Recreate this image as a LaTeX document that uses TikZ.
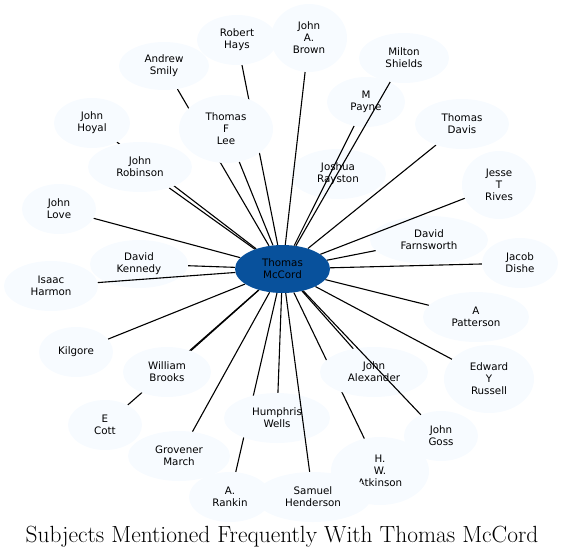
\documentclass[tikz,border=0pt]{standalone}
\usepackage{fontspec}
\newfontfamily\nodefont{DejaVu Sans}
\usetikzlibrary{shapes.geometric}
\pgfdeclarelayer{bg}
\pgfdeclarelayer{fg}
\pgfsetlayers{bg,main,fg}
\definecolor{lightnode}{HTML}{F7FBFF}
\definecolor{hubblue}{HTML}{08519C}
\begin{document}
\begin{tikzpicture}[x=1pt,y=-1pt,
  subj/.style={ellipse, fill=lightnode, inner sep=0pt, align=center,
    font=\nodefont\fontsize{10.3}{12}\selectfont, text=black},
  hub/.style={ellipse, fill=hubblue, inner sep=0pt, align=center,
    font=\nodefont\fontsize{10.3}{12}\selectfont, text=black},
  link/.style={draw=black, line width=1.1pt}]
\useasboundingbox (0,0) rectangle (564,558);

% nodes
\node[hub, minimum width=95pt, minimum height=48pt] (c) at (282.5,269) {Thomas\\McCord};
\node[subj, minimum width=80pt, minimum height=50pt] (hays) at (237,40) {Robert\\Hays};
\node[subj, minimum width=76pt, minimum height=68pt] (brown) at (309,38) {John\\A.\\Brown};
\node[subj, minimum width=90pt, minimum height=50pt] (shields) at (404,58) {Milton\\Shields};
\node[subj, minimum width=90pt, minimum height=48pt] (smily) at (164,66) {Andrew\\Smily};
\node[subj, minimum width=78pt, minimum height=50pt] (payne) at (366,102) {M\\Payne};
\node[subj, minimum width=94pt, minimum height=50pt] (davis) at (462,124) {Thomas\\Davis};
\node[subj, minimum width=76pt, minimum height=50pt] (hoyal) at (92,123) {John\\Hoyal};
\node[subj, minimum width=94pt, minimum height=68pt] (lee) at (226,129) {Thomas\\F\\Lee};
\node[subj, minimum width=104pt, minimum height=50pt] (robinson) at (140,167) {John\\Robinson};
\node[subj, minimum width=96pt, minimum height=50pt] (rayston) at (338,174) {Joshua\\Rayston};
\node[subj, minimum width=74pt, minimum height=68pt] (rives) at (499,185) {Jesse\\T\\Rives};
\node[subj, minimum width=74pt, minimum height=50pt] (love) at (59,209) {John\\Love};
\node[subj, minimum width=118pt, minimum height=48pt] (farnsworth) at (429,240) {David\\Farnsworth};
\node[subj, minimum width=76pt, minimum height=50pt] (dishe) at (520,263) {Jacob\\Dishe};
\node[subj, minimum width=98pt, minimum height=48pt] (kennedy) at (139,264) {David\\Kennedy};
\node[subj, minimum width=94pt, minimum height=50pt] (harmon) at (51,286) {Isaac\\Harmon};
\node[subj, minimum width=74pt, minimum height=50pt] (kilgore) at (76,352) {Kilgore};
\node[subj, minimum width=88pt, minimum height=50pt] (brooks) at (167,372) {William\\Brooks};
\node[subj, minimum width=74pt, minimum height=50pt] (cott) at (105,425) {E\\Cott};
\node[subj, minimum width=102pt, minimum height=50pt] (march) at (179,456) {Grovener\\March};
\node[subj, minimum width=82pt, minimum height=50pt] (rankin) at (230,497) {A.\\Rankin};
\node[subj, minimum width=106pt, minimum height=50pt] (wells) at (277,418) {Humphris\\Wells};
\node[subj, minimum width=98pt, minimum height=68pt] (atkinson) at (380,471) {H.\\W.\\Atkinson};
\node[subj, minimum width=116pt, minimum height=50pt] (henderson) at (313,497) {Samuel\\Henderson};
\node[subj, minimum width=108pt, minimum height=50pt] (alexander) at (374,372) {John\\Alexander};
\node[subj, minimum width=74pt, minimum height=50pt] (goss) at (441,436) {John\\Goss};
\node[subj, minimum width=90pt, minimum height=68pt] (russell) at (489,379) {Edward\\Y\\Russell};
\node[subj, minimum width=106pt, minimum height=50pt] (patterson) at (476,317) {A\\Patterson};

\node[font=\fontsize{23.4}{28}\selectfont, inner sep=0pt] (title) at (282,537) {Subjects Mentioned Frequently With Thomas McCord};

% edges under the nodes
\begin{pgfonlayer}{bg}
\foreach \t in {hays,smily,hoyal,lee,robinson,love,kennedy,kilgore,brooks,cott,march,rankin,wells,atkinson,alexander,russell,patterson,dishe,farnsworth,davis}
  \draw[link] (c) -- (\t);
\end{pgfonlayer}

% edges over the nodes
\begin{pgfonlayer}{fg}
\foreach \t in {brown,payne,shields,goss,henderson,harmon,rives}
  \draw[link] (c) -- (\t);
\end{pgfonlayer}
\end{tikzpicture}
\end{document}
